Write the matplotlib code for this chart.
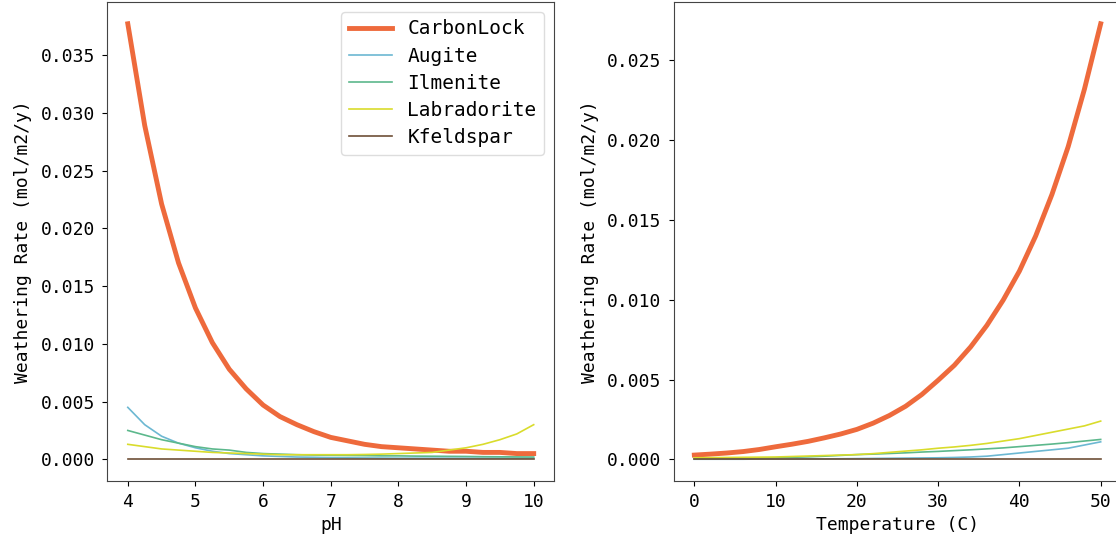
import matplotlib
matplotlib.use("Agg")
import matplotlib.pyplot as plt
import numpy as np

plt.rcParams['font.family'] = ['DejaVu Sans Mono']
plt.rcParams['font.size'] = 13
plt.rcParams['ytick.major.pad'] = 5.5
plt.rcParams['xtick.major.pad'] = 5

names = ["CarbonLock", "Augite", "Ilmenite", "Labradorite", "Kfeldspar"]
colors = ["#ee6a3c", "#6cb8d2", "#5cb88c", "#d9dc2c", "#6e4f37"]
widths = [3.5, 1.2, 1.2, 1.2, 1.2]

# weathering rate vs pH (pH 4..10, step 0.25)
ph = np.arange(4, 10.01, 0.25)
ph_carbonlock = [0.0377, 0.0289, 0.0221, 0.0170, 0.0131, 0.0101, 0.0078, 0.0061,
                 0.0047, 0.0037, 0.0030, 0.0024, 0.0019, 0.0016, 0.0013, 0.0011,
                 0.0010, 0.0009, 0.0008, 0.0007, 0.0007, 0.0006, 0.0006, 0.0005, 0.0005]
ph_augite = [0.0045, 0.0030, 0.0020, 0.0014, 0.0010, 0.0007, 0.0005, 0.0004,
             0.0003, 0.00025, 0.0002, 0.00018, 0.00015, 0.00013, 0.00012, 0.00011,
             0.0001, 0.0001, 0.0001, 0.0001, 0.0001, 0.0001, 0.0001, 0.0001, 0.0001]
ph_ilmenite = [0.0025, 0.0021, 0.0017, 0.0014, 0.0011, 0.0009, 0.0008, 0.0006,
               0.0005, 0.00045, 0.0004, 0.00037, 0.00035, 0.00033, 0.00032, 0.0003,
               0.0003, 0.00028, 0.00027, 0.00026, 0.00025, 0.00023, 0.00022, 0.00021, 0.0002]
ph_labradorite = [0.0013, 0.0011, 0.0009, 0.0008, 0.0007, 0.0006, 0.00055, 0.0005,
                  0.00045, 0.0004, 0.0004, 0.0004, 0.0004, 0.0004, 0.00042, 0.00045,
                  0.0005, 0.00055, 0.0006, 0.0008, 0.0010, 0.0013, 0.0017, 0.0022, 0.0030]
ph_kfeldspar = [0.00001] * 25

# weathering rate vs temperature (0..50 C, step 2)
temp = np.arange(0, 51, 2)
t_carbonlock = [0.00027, 0.00033, 0.00040, 0.00049, 0.00062, 0.00079, 0.00095, 0.00113,
                0.00135, 0.00159, 0.00188, 0.00227, 0.00275, 0.00333, 0.00407, 0.00496,
                0.00590, 0.00705, 0.00840, 0.00998, 0.0118, 0.0140, 0.0166, 0.0196,
                0.0232, 0.0273]
t_augite = [0.00001, 0.00001, 0.00001, 0.00001, 0.00002, 0.00002, 0.00002, 0.00003,
            0.00003, 0.00004, 0.00005, 0.00006, 0.00007, 0.00008, 0.00009, 0.0001,
            0.00012, 0.00015, 0.0002, 0.0003, 0.0004, 0.0005, 0.0006, 0.0007,
            0.0009, 0.0011]
t_ilmenite = [0.00005, 0.00006, 0.00007, 0.00008, 0.00009, 0.0001, 0.00013, 0.00016,
              0.0002, 0.00025, 0.0003, 0.00033, 0.00037, 0.00041, 0.00046, 0.0005,
              0.00055, 0.0006, 0.00066, 0.00072, 0.0008, 0.00088, 0.00096, 0.00105,
              0.00115, 0.00125]
t_labradorite = [0.0001, 0.00011, 0.00012, 0.00013, 0.00014, 0.00015, 0.00018, 0.00021,
                 0.00024, 0.00027, 0.0003, 0.00036, 0.00044, 0.00052, 0.0006, 0.0007,
                 0.00078, 0.00088, 0.001, 0.00115, 0.0013, 0.0015, 0.0017, 0.0019,
                 0.0021, 0.0024]
t_kfeldspar = [0.00001] * 26

ph_series = [ph_carbonlock, ph_augite, ph_ilmenite, ph_labradorite, ph_kfeldspar]
t_series = [t_carbonlock, t_augite, t_ilmenite, t_labradorite, t_kfeldspar]

fig = plt.figure(figsize=(11.16, 5.39), dpi=100)
bottom, height = 1 - 481 / 539, 479 / 539
ax1 = fig.add_axes([107.5 / 1116, bottom, 446.5 / 1116, height])
ax2 = fig.add_axes([674 / 1116, bottom, 447 / 1116, height])

for name, c, w, ys in zip(names, colors, widths, ph_series):
    ax1.plot(ph, ys, color=c, lw=w, label=name)
for name, c, w, ys in zip(names, colors, widths, t_series):
    ax2.plot(temp, ys, color=c, lw=w, label=name)

ax1.set_xlabel("pH")
ax2.set_xlabel("Temperature (C)")
for ax in (ax1, ax2):
    ax.set_ylabel("Weathering Rate (mol/m2/y)", labelpad=6)
    for s in ax.spines.values():
        s.set_color("#444444")
ax1.set_xticks([4, 5, 6, 7, 8, 9, 10])

ax1.legend(loc="upper right", handlelength=2.2, framealpha=1, edgecolor="#dddddd",
           fontsize=14, labelspacing=0.42)

fig.savefig("out.png", dpi=100)
